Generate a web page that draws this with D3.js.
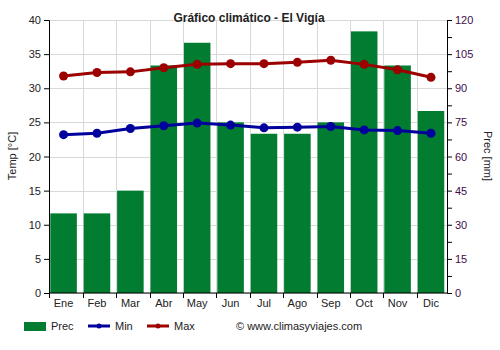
<!DOCTYPE html>
<html>
<head>
<meta charset="utf-8">
<script src="https://cdn.jsdelivr.net/npm/d3@7"></script>
<style>
  body { margin: 0; background: #fff; }
  svg { display: block; font-family: "Liberation Sans", Arial, sans-serif; }
</style>
</head>
<body>
<svg id="chart" width="500" height="350"></svg>
<script>
// Monthly climate data for El Vigía
const months = ["Ene", "Feb", "Mar", "Abr", "May", "Jun", "Jul", "Ago", "Sep", "Oct", "Nov", "Dic"];
const prec = [35, 35, 45, 100, 110, 75, 70, 70, 75, 115, 100, 80];
const tMin = [23.2, 23.4, 24.1, 24.5, 24.9, 24.6, 24.2, 24.3, 24.4, 23.9, 23.8, 23.4];
const tMax = [31.8, 32.3, 32.4, 33.0, 33.5, 33.6, 33.6, 33.8, 34.1, 33.5, 32.7, 31.6];
const tempTicks = [0, 5, 10, 15, 20, 25, 30, 35, 40];
const precTicks = [0, 15, 30, 45, 60, 75, 90, 105, 120];

const svg = d3.select("#chart");
const plotL = 49, plotR = 447, plotT = 20, plotB = 293;

// month slots; each bar sits at the left of its slot
const x = d3.scaleBand().domain(months).range([49.3, 450.1]).padding(0);
const barW = x.bandwidth() * 0.795;
const barX = m => x(m) + 1;
const cx = m => barX(m) + barW / 2;
const yT = d3.scaleLinear().domain([0, 40]).range([plotB, plotT]);
const yP = d3.scaleLinear().domain([0, 120]).range([plotB, plotT]);

// grid
const grid = svg.append("g").attr("stroke", "#d9d9d9").attr("stroke-width", 1);
tempTicks.forEach(t => {
  grid.append("line").attr("x1", plotL).attr("x2", plotR)
    .attr("y1", Math.round(yT(t)) + 0.5).attr("y2", Math.round(yT(t)) + 0.5);
});
months.slice(1).forEach(m => {
  grid.append("line").attr("y1", plotT).attr("y2", plotB)
    .attr("x1", Math.round(x(m)) + 0.5).attr("x2", Math.round(x(m)) + 0.5);
});

// precipitation bars
svg.append("g").selectAll("rect").data(prec).join("rect")
  .attr("x", (d, i) => barX(months[i]))
  .attr("width", barW)
  .attr("y", d => yP(d))
  .attr("height", d => plotB - yP(d))
  .attr("fill", "#027c30");

// temperature lines
function series(values, color) {
  const line = d3.line().x((d, i) => cx(months[i])).y(d => yT(d));
  svg.append("path").datum(values).attr("d", line)
    .attr("fill", "none").attr("stroke", color).attr("stroke-width", 3);
  svg.append("g").selectAll("circle").data(values).join("circle")
    .attr("cx", (d, i) => cx(months[i]))
    .attr("cy", d => yT(d)).attr("r", 4.5).attr("fill", color);
}
series(tMin, "#00009c");
series(tMax, "#9c0000");

// axes
const axL = svg.append("g").attr("transform", `translate(${plotL},0)`)
  .call(d3.axisLeft(yT).tickValues(tempTicks).tickSize(5).tickPadding(3));
axL.selectAll("text").attr("fill", "#222").style("font-size", "11px");

const axR = svg.append("g").attr("transform", `translate(${plotR},0)`)
  .call(d3.axisRight(yP).tickValues(d3.range(0, 121, 7.5)).tickSize(5).tickPadding(3)
    .tickFormat(d => precTicks.includes(d) ? d : ""));
axR.selectAll("text").attr("fill", "#3d0c4a").style("font-size", "11px");

const axB = svg.append("g").attr("transform", `translate(0,${plotB})`);
axB.append("line").attr("x1", plotL).attr("x2", plotR).attr("stroke", "#000");
months.forEach(m => {
  const px = Math.round(x(m)) + 0.5;
  axB.append("line").attr("x1", px).attr("x2", px).attr("y1", 0).attr("y2", 5).attr("stroke", "#000");
});
axB.selectAll("text.m").data(months).join("text").attr("class", "m")
  .attr("x", d => cx(d)).attr("y", 14)
  .attr("text-anchor", "middle").style("font-size", "11px").attr("fill", "#222").text(d => d);

[axL, axR].forEach(a => { a.select(".domain").attr("stroke", "#000"); a.selectAll(".tick line").attr("stroke", "#000"); });

// titles
svg.append("text").attr("x", 249).attr("y", 22).attr("text-anchor", "middle")
  .style("font-size", "12px").style("font-weight", "bold").attr("fill", "#222")
  .text("Gráfico climático - El Vigía");
svg.append("text").attr("transform", "translate(16,156) rotate(-90)").attr("text-anchor", "middle")
  .style("font-size", "11px").attr("fill", "#222").text("Temp [°C]");
svg.append("text").attr("transform", "translate(484,156) rotate(90)").attr("text-anchor", "middle")
  .style("font-size", "11px").attr("fill", "#222").text("Prec [mm]");

// legend
const lg = svg.append("g").style("font-size", "11px").attr("fill", "#222");
lg.append("rect").attr("x", 24).attr("y", 322).attr("width", 22).attr("height", 9).attr("fill", "#027c30");
lg.append("text").attr("x", 51).attr("y", 330).text("Prec");
[["Min", "#00009c", 88], ["Max", "#9c0000", 147]].forEach(([name, c, lx]) => {
  lg.append("line").attr("x1", lx).attr("x2", lx + 22).attr("y1", 326).attr("y2", 326).attr("stroke", c).attr("stroke-width", 3);
  lg.append("circle").attr("cx", lx + 11).attr("cy", 326).attr("r", 2.5).attr("fill", c);
  lg.append("text").attr("x", lx + 27).attr("y", 330).text(name);
});
lg.append("text").attr("x", 236).attr("y", 330).text("© www.climasyviajes.com");
</script>
</body>
</html>
